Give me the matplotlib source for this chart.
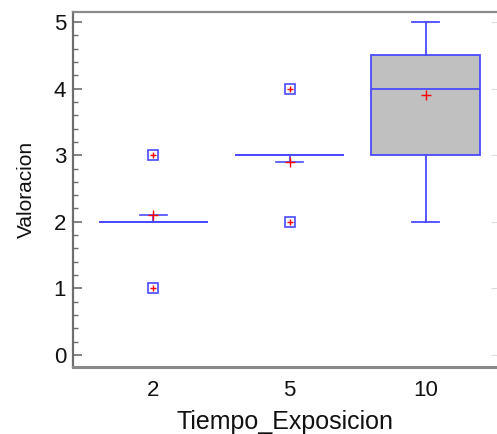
import matplotlib
matplotlib.use("Agg")
import matplotlib.pyplot as plt
from matplotlib.ticker import MultipleLocator

plt.rcParams['font.family'] = ['Liberation Sans', 'DejaVu Sans']

# box plot summary
groups = ['2', '5', '10']
q1 = [2.0, 3.0, 3.0]
medians = [2.0, 3.0, 4.0]
q3 = [2.0, 3.0, 4.5]
whislo = [2.0, 3.0, 2.0]
whishi = [2.0, 3.0, 5.0]
means = [2.1, 2.9, 3.9]
fliers = [[1.0, 3.0], [2.0, 4.0], []]

BLUE = '#4a4aff'
GRAY = '#6e6e6e'

fig = plt.figure(figsize=(4.97, 4.34), dpi=100)
ax = fig.add_axes([73/497, 67/434, 1 - 73/497, 355/434])

stats = []
for i, g in enumerate(groups):
    stats.append(dict(label=g, q1=q1[i], med=medians[i], q3=q3[i],
                      whislo=whislo[i], whishi=whishi[i], mean=means[i],
                      fliers=fliers[i]))

pos = list(range(1, len(groups) + 1))
ax.bxp(stats, positions=pos, widths=0.8, capwidths=0.2, patch_artist=True,
       showmeans=False, showfliers=True,
       boxprops=dict(facecolor='#c0c0c0', edgecolor=BLUE, linewidth=1.3),
       medianprops=dict(color=BLUE, linewidth=1.3),
       whiskerprops=dict(color=BLUE, linewidth=1.3),
       capprops=dict(color=BLUE, linewidth=1.3),
       flierprops=dict(marker='s', markerfacecolor='none', markeredgecolor=BLUE,
                       markersize=6.5, markeredgewidth=1.2))

# mean markers; degenerate boxes also get the little blue "T"
for i, p in enumerate(pos):
    if q1[i] == q3[i]:
        ax.plot([p - 0.1, p + 0.1], [means[i], means[i]], color=BLUE, lw=1.2)
        ax.plot([p, p], [medians[i], means[i]], color=BLUE, lw=1.2)
    ax.plot(p, means[i], '+', color='red', markersize=6.5, mew=1.0)
    for f in fliers[i]:
        ax.plot(p, f, '+', color='red', markersize=5, mew=1.0)

ax.set_xlim(1 - 80/136, 3 + 71/136)
ax.set_ylim(-0.18, 5.15)
ax.set_xticks(pos)
ax.set_xticklabels(groups)
ax.yaxis.set_major_locator(MultipleLocator(1))
ax.yaxis.set_minor_locator(MultipleLocator(0.2))

ax.tick_params(axis='y', which='major', direction='in', length=6.5, width=1.2,
               color=GRAY, labelsize=16, pad=5, labelcolor='#111111')
ax.tick_params(axis='y', which='minor', direction='in', length=3.5, width=1.0,
               color=GRAY)
ax.tick_params(axis='x', length=0, labelsize=16, pad=9, labelcolor='#111111')

ax.spines['right'].set_visible(False)
ax.spines['left'].set_color(GRAY)
ax.spines['left'].set_linewidth(1.6)
ax.spines['top'].set_color('#8a8a8a')
ax.spines['top'].set_linewidth(1.6)
ax.spines['bottom'].set_color('#8a8a8a')
ax.spines['bottom'].set_linewidth(2.2)

# faint ticks on the right edge
ax2 = ax.twinx()
ax2.set_ylim(ax.get_ylim())
ax2.yaxis.set_major_locator(MultipleLocator(1))
ax2.tick_params(axis='y', direction='in', length=4, color='#dddddd',
                labelright=False)
for s in ax2.spines.values():
    s.set_visible(False)

ax.set_xlabel('Tiempo_Exposicion', fontsize=18, labelpad=7, color='#111111')
ax.set_ylabel('Valoracion', fontsize=15, labelpad=13, color='#111111')

fig.savefig('out.png', dpi=100)
